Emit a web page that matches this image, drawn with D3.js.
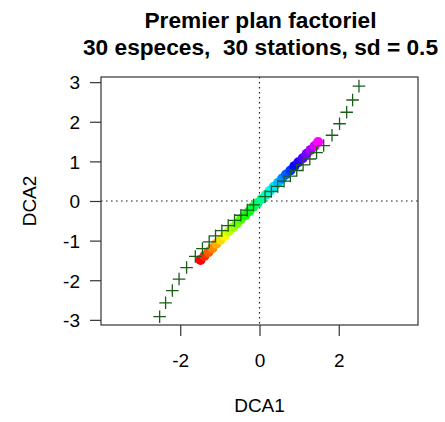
<!DOCTYPE html>
<html>
<head>
<meta charset="utf-8">
<script src="https://cdn.jsdelivr.net/npm/d3@7"></script>
<style>
  html, body { margin: 0; padding: 0; background: #fff; }
  svg { display: block; font-family: "Liberation Sans", Arial, Helvetica, sans-serif; }
</style>
</head>
<body>
<svg id="chart" width="445" height="422"></svg>
<script>
// Station scores on the first two DCA axes (coloured dots)
const stationX = [-1.49, -1.39, -1.29, -1.19, -1.09, -0.98, -0.88, -0.78, -0.67, -0.57,
                  -0.47, -0.36, -0.26, -0.16, -0.05, 0.05, 0.16, 0.26, 0.36, 0.47,
                  0.57, 0.67, 0.78, 0.88, 0.98, 1.09, 1.19, 1.29, 1.39, 1.48];
const stationY = [-1.49, -1.39, -1.29, -1.19, -1.08, -0.98, -0.88, -0.77, -0.67, -0.57,
                  -0.46, -0.36, -0.26, -0.15, -0.05, 0.05, 0.15, 0.26, 0.36, 0.46,
                  0.57, 0.67, 0.77, 0.88, 0.98, 1.08, 1.19, 1.29, 1.39, 1.49];

// Species scores (crosses)
const speciesX = [-2.52, -2.37, -2.20, -2.03, -1.84, -1.62, -1.44, -1.27, -1.11, -0.95,
                  -0.79, -0.63, -0.47, -0.31, -0.15, 0.14, 0.30, 0.46, 0.62, 0.78,
                  0.94, 1.10, 1.27, 1.44, 1.62, 1.83, 2.02, 2.20, 2.35, 2.51];
const speciesY = [-2.92, -2.57, -2.26, -1.97, -1.68, -1.40, -1.20, -1.03, -0.88, -0.75,
                  -0.62, -0.49, -0.36, -0.23, -0.10, 0.11, 0.24, 0.37, 0.50, 0.63,
                  0.77, 0.91, 1.06, 1.22, 1.40, 1.66, 1.95, 2.24, 2.55, 2.90];

const xTicks = [-2, 0, 2];
const yTicks = [3, 2, 1, 0, -1, -2, -3];

const titleLines = ["Premier plan factoriel", "30 especes,  30 stations, sd = 0.5"];
const xLabel = "DCA1";
const yLabel = "DCA2";

const svg = d3.select("#chart");
const plot = { left: 101, right: 418, top: 77, bottom: 325 };

const x = d3.scaleLinear().domain([-4, 4]).range([plot.left, plot.right]);
const y = d3.scaleLinear().domain([-3.13, 3.13]).range([plot.bottom, plot.top]);

const ink = "#333";
const labelSize = 19;

// Title
svg.append("g")
  .selectAll("text")
  .data(titleLines)
  .join("text")
  .attr("x", (plot.left + plot.right) / 2 + 1)
  .attr("y", (d, i) => 28 + i * 27)
  .attr("text-anchor", "middle")
  .attr("font-size", 22.7)
  .attr("font-weight", "bold")
  .attr("fill", "#000")
  .style("white-space", "pre")
  .text(d => d);

// Reference lines through the origin
const ref = svg.append("g")
  .attr("stroke", "#222")
  .attr("stroke-width", 1.2)
  .attr("stroke-dasharray", "1.6,3.4");
ref.append("line")
  .attr("x1", x(0)).attr("x2", x(0))
  .attr("y1", plot.top).attr("y2", plot.bottom);
ref.append("line")
  .attr("x1", plot.left).attr("x2", plot.right)
  .attr("y1", y(0)).attr("y2", y(0));

// Axes
const xAxis = svg.append("g")
  .attr("transform", `translate(0,${plot.bottom})`)
  .call(d3.axisBottom(x).tickValues(xTicks).tickSize(11).tickPadding(18)
        .tickFormat(d3.format("d")));
const yAxis = svg.append("g")
  .attr("transform", `translate(${plot.left},0)`)
  .call(d3.axisLeft(y).tickValues(yTicks).tickSize(11).tickPadding(10)
        .tickFormat(d3.format("d")));
[xAxis, yAxis].forEach(g => {
  g.select(".domain").remove();
  g.selectAll(".tick line").attr("stroke", ink).attr("stroke-width", 1.2);
  g.selectAll(".tick text")
    .attr("fill", "#000")
    .attr("font-size", labelSize)
    .attr("font-family", "Liberation Sans, Arial, sans-serif");
});
xAxis.selectAll(".tick text").attr("dy", "0.71em");
yAxis.selectAll(".tick text").attr("dy", "0.36em");
// minus sign drawn as a hyphen
svg.selectAll(".tick text").text(d => String(d));

// Plot frame
svg.append("rect")
  .attr("x", plot.left).attr("y", plot.top)
  .attr("width", plot.right - plot.left)
  .attr("height", plot.bottom - plot.top)
  .attr("fill", "none")
  .attr("stroke", ink)
  .attr("stroke-width", 1.2);

// Axis titles
svg.append("text")
  .attr("x", (plot.left + plot.right) / 2)
  .attr("y", 412)
  .attr("text-anchor", "middle")
  .attr("font-size", labelSize)
  .attr("fill", "#000")
  .text(xLabel);
svg.append("text")
  .attr("transform", `translate(36,${(plot.top + plot.bottom) / 2}) rotate(-90)`)
  .attr("text-anchor", "middle")
  .attr("font-size", labelSize)
  .attr("fill", "#000")
  .text(yLabel);

// Stations: rainbow-coloured dots from red to magenta
const stations = stationX.map((v, i) => ({ x: v, y: stationY[i], i }));
const n = stations.length;
svg.append("g")
  .selectAll("circle")
  .data(stations)
  .join("circle")
  .attr("cx", d => x(d.x))
  .attr("cy", d => y(d.y))
  .attr("r", 5)
  .attr("fill", d => d3.hsl(300 * d.i / (n - 1), 1, 0.5).toString());

// Species: dark green crosses
const species = speciesX.map((v, i) => ({ x: v, y: speciesY[i] }));
const arm = 6.3;
svg.append("g")
  .attr("stroke", "#1a5e1a")
  .attr("stroke-width", 1.3)
  .selectAll("path")
  .data(species)
  .join("path")
  .attr("d", d => {
    const cx = x(d.x), cy = y(d.y);
    return `M${cx - arm},${cy}H${cx + arm}M${cx},${cy - arm}V${cy + arm}`;
  });
</script>
</body>
</html>
